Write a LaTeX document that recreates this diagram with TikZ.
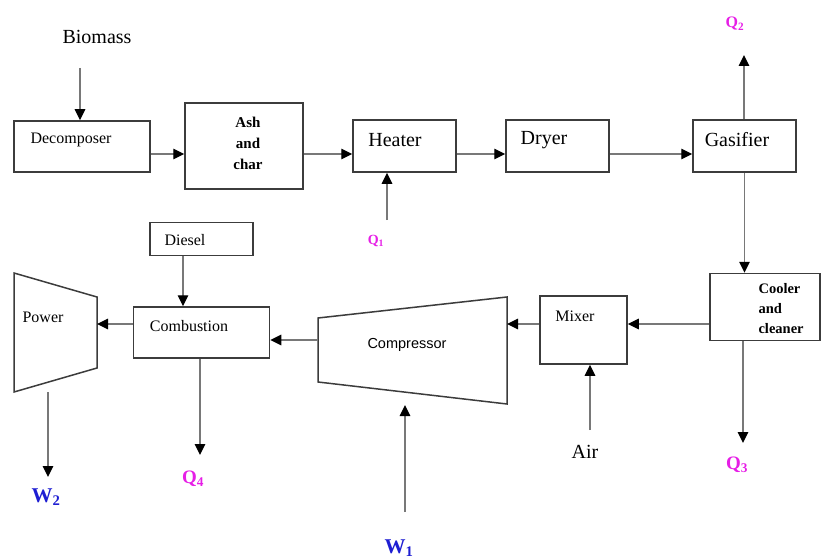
\documentclass[tikz,border=0pt]{standalone}
\usepackage{fontspec}
\setmainfont{Liberation Serif}
\setsansfont{Liberation Sans}
\usetikzlibrary{arrows.meta}
\definecolor{qmag}{RGB}{230,30,230}
\definecolor{wblue}{RGB}{30,30,210}
\definecolor{boxgray}{RGB}{60,60,60}
\definecolor{linegray}{RGB}{120,120,120}
\tikzset{
  unit/.style={draw=boxgray, line width=1.5pt, inner sep=0pt},
  flow/.style={draw=linegray, line width=1.4pt, -{Triangle[length=11pt,width=10.5pt,color=black]}},
  big/.style={font=\fontsize{20}{22}\selectfont},
  small/.style={font=\fontsize{16}{18}\selectfont},
  qlab/.style={text=qmag, font=\fontsize{19}{21}\selectfont\bfseries},
  wlab/.style={text=wblue, font=\fontsize{21}{23}\selectfont\bfseries},
}
\begin{document}
\begin{tikzpicture}[x=1pt,y=-1pt]
\useasboundingbox (0,0) rectangle (822,559);
% boxes (positioned by corners)
\node[unit, minimum width=136pt, minimum height=51pt] (dec) at (82,146.5) {};
\node[unit, minimum width=118pt, minimum height=86pt] (ash) at (244,146) {};
\node[unit, minimum width=103pt, minimum height=52pt] (hea) at (404.5,146) {};
\node[unit, minimum width=103pt, minimum height=52pt] (dry) at (557.5,146) {};
\node[unit, minimum width=103pt, minimum height=52pt] (gas) at (744.5,146) {};
\node[unit, minimum width=110pt, minimum height=67pt] (coo) at (765,307) {};
\node[unit, minimum width=87pt, minimum height=68pt] (mix) at (583.5,330) {};
\node[unit, minimum width=136pt, minimum height=51pt] (com) at (201.5,332.5) {};
\node[unit, minimum width=103pt, minimum height=33pt] (die) at (201.5,239) {};
% trapezoids
\draw[draw=boxgray, line width=1.5pt] (318,318) -- (507,297) -- (507,404) -- (318,382) -- cycle;
\coordinate (cmpL) at (318,340);
\coordinate (cmpR) at (507,324);
\coordinate (cmpB) at (405,405);
\draw[draw=boxgray, line width=1.5pt] (14,273) -- (97,297) -- (97,368) -- (14,392) -- cycle;
\coordinate (powR) at (97,324);
\coordinate (powB) at (48,392);
% texts
\node[big] (tbio) at (97,37) {Biomass};
\node[small] (tdec) at (71,140) {Decomposer};
\node[font=\fontsize{15}{21}\selectfont\bfseries, align=center] (tash) at (248,143) {Ash\\and\\char};
\node[big] (thea) at (395,140) {Heater};
\node[big] (tdry) at (544,140) {Dryer};
\node[big] (tgas) at (737,140) {Gasifier};
\node[font=\fontsize{14.5}{20}\selectfont\bfseries, align=left, anchor=west] (tcoo) at (755,309) {Cooler\\and\\cleaner};
\node[small] (tmix) at (575,316) {Mixer};
\node[font=\sffamily\fontsize{14.5}{16}\selectfont] (tcmp) at (407,345) {Compressor};
\node[small] (tcom) at (189,326) {Combustion};
\node[small] (tdie) at (185,240) {Diesel};
\node[small] (tpow) at (43,317) {Power};
\node[big] (tair) at (585,452) {Air};
\node[qlab, font=\fontsize{14}{16}\selectfont\bfseries] (q1) at (376,241) {Q\textsubscript{1}};
\node[qlab, font=\fontsize{16}{18}\selectfont\bfseries] (q2) at (735,24) {Q\textsubscript{2}};
\node[qlab] (q3) at (737,465) {Q\textsubscript{3}};
\node[qlab] (q4) at (193,479) {Q\textsubscript{4}};
\node[wlab] (w1) at (399,548) {W\textsubscript{1}};
\node[wlab] (w2) at (46,497) {W\textsubscript{2}};
% helper coordinates for free ends
\coordinate (bioS) at (80,68);
\coordinate (q1S) at (387,220);
\coordinate (q2E) at (744,55);
\coordinate (q3E) at (743,443);
\coordinate (q4E) at (200,455);
\coordinate (airS) at (590,430);
\coordinate (w1S) at (405,512);
\coordinate (w2E) at (48,477);
% connectors
\draw[flow] (bioS) -- (bioS |- dec.north);
\draw[flow] (dec.east |- 0,154) -- (ash.west |- 0,154);
\draw[flow] (ash.east |- 0,154) -- (hea.west |- 0,154);
\draw[flow] (hea.east |- 0,154) -- (dry.west |- 0,154);
\draw[flow] (dry.east |- 0,154) -- (gas.west |- 0,154);
\draw[flow] (q1S) -- (q1S |- hea.south);
\draw[flow] (q2E |- gas.north) -- (q2E);
\draw[flow] (gas.south) -- (gas.south |- coo.north);
\draw[flow] (q3E |- coo.south) -- (q3E);
\draw[flow] (coo.west |- 0,324) -- (mix.east |- 0,324);
\draw[flow] (airS) -- (airS |- mix.south);
\draw[flow] (mix.west |- 0,324) -- (cmpR);
\draw[flow] (w1S) -- (cmpB);
\draw[flow] (cmpL) -- (com.east |- cmpL);
\draw[flow] (die.south -| 183,0) -- (com.north -| 183,0);
\draw[flow] (com.west |- powR) -- (powR);
\draw[flow] (q4E |- com.south) -- (q4E);
\draw[flow] (powB) -- (w2E);
\end{tikzpicture}
\end{document}
